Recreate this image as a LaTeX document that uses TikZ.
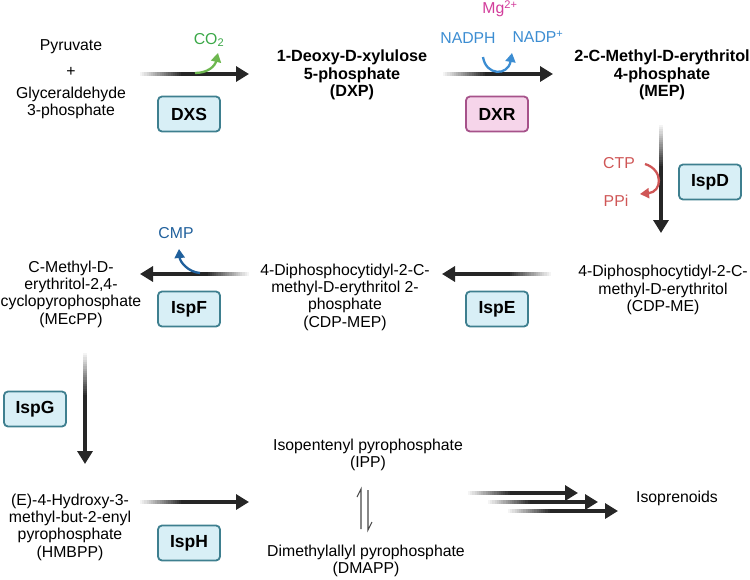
\documentclass[tikz,border=0pt]{standalone}
\usepackage{fontspec}
\setmainfont{Liberation Sans}
\usetikzlibrary{arrows.meta,calc}
\definecolor{arrowc}{HTML}{262626}
\definecolor{enzbd}{HTML}{3E7F8F}
\definecolor{enzbf}{HTML}{D8EFF6}
\definecolor{dxrbd}{HTML}{A6528A}
\definecolor{dxrbf}{HTML}{F6D5EA}
\definecolor{co2c}{HTML}{3BA848}
\definecolor{co2a}{HTML}{6DB74F}
\definecolor{nadc}{HTML}{3C8DD2}
\definecolor{mgc}{HTML}{D23D9B}
\definecolor{ctpc}{HTML}{CF5656}
\definecolor{cmpc}{HTML}{20609C}
\tikzset{
  txt/.style={font=\fontsize{15.8}{17.3}\selectfont, align=center, inner sep=0pt, text=black},
  btxt/.style={txt, font=\fontsize{16.2}{17.5}\selectfont\bfseries},
  enzb/.style={draw=enzbd, fill=enzbf, line width=1.8pt, rounded corners=4pt,
    minimum width=62pt, minimum height=35pt, inner sep=0pt,
    font=\fontsize{17.5}{20}\selectfont\bfseries},
  enzp/.style={enzb, draw=dxrbd, fill=dxrbf},
  shaft/.style={line width=3.4pt},
  tipx/.style={-{Triangle[length=13pt,width=15pt]}},
  small/.style={line width=2.3pt, -{Triangle[length=9pt,width=10pt]}},
  eq/.style={draw=arrowc!85!white, line width=1.1pt},
}
\newcommand\gradarrow[2]{%
  \foreach \i in {0,...,19}{%
    \pgfmathsetmacro\pa{\i*0.02}%
    \pgfmathsetmacro\pb{(\i+1.3)*0.02}%
    \pgfmathtruncatemacro\cc{(\i+1)*5}%
    \draw[shaft, draw=arrowc!\cc!white] ($(#1)!\pa!(#2)$) -- ($(#1)!\pb!(#2)$);
  }%
  \draw[shaft, draw=arrowc, tipx] ($(#1)!0.4!(#2)$) -- (#2);
}
\begin{document}
\begin{tikzpicture}[x=1pt, y=-1pt]
\useasboundingbox (0,0) rectangle (750,579);

% metabolites
\node[txt] (pyr) at (71,47) {Pyruvate};
\node[txt] (plus) at (71,72) {+};
\node[txt] (gap) at (71,103) {Glyceraldehyde\\3-phosphate};
\node[btxt] (dxp) at (352,75) {1-Deoxy-D-xylulose\\5-phosphate\\(DXP)};
\node[btxt] (mep) at (662,75) {2-C-Methyl-D-erythritol\\4-phosphate\\(MEP)};
\node[txt] (cdpme) at (663,290) {4-Diphosphocytidyl-2-C-\\methyl-D-erythritol\\(CDP-ME)};
\node[txt] (cdpmep) at (345,297) {4-Diphosphocytidyl-2-C-\\methyl-D-erythritol 2-\\phosphate\\(CDP-MEP)};
\node[txt] (mecpp) at (71,294) {C-Methyl-D-\\erythritol-2,4-\\cyclopyrophosphate\\(MEcPP)};
\node[txt] (hmbpp) at (70,527) {(E)-4-Hydroxy-3-\\methyl-but-2-enyl\\pyrophosphate\\(HMBPP)};
\node[txt] (ipp) at (368,455) {Isopentenyl pyrophosphate\\(IPP)};
\node[txt] (dmapp) at (366,561) {Dimethylallyl pyrophosphate\\(DMAPP)};
\node[txt] (iso) at (677,498) {Isoprenoids};

% enzymes
\node[enzb] (dxs) at (189,114) {DXS};
\node[enzp] (dxr) at (497,114) {DXR};
\node[enzb] (ispd) at (710,182) {IspD};
\node[enzb] (ispe) at (497,309) {IspE};
\node[enzb] (ispf) at (189,309) {IspF};
\node[enzb] (ispg) at (35,409) {IspG};
\node[enzb] (isph) at (189,543) {IspH};

% cofactor labels
\node[txt, text=co2c] (co2) at (209,40) {CO\textsubscript{2}};
\node[txt, text=nadc] (nadph) at (468,38) {NADPH};
\node[txt, text=nadc] (nadp) at (538,37) {NADP\textsuperscript{+}};
\node[txt, text=mgc] (mg) at (500,9) {Mg\textsuperscript{2+}};
\node[txt, text=ctpc] (ctp) at (619,163) {CTP};
\node[txt, text=ctpc] (ppi) at (616,201) {PPi};
\node[txt, text=cmpc] (cmp) at (176,233) {CMP};

% main arrows
\coordinate (a1s) at (140,74);  \coordinate (a1e) at (249,74);
\coordinate (a2s) at (443,74);  \coordinate (a2e) at (553,74);
\coordinate (a3s) at (661,125); \coordinate (a3e) at (661,233);
\coordinate (a4s) at (551,274); \coordinate (a4e) at (442,274);
\coordinate (a5s) at (249,274); \coordinate (a5e) at (140,274);
\coordinate (a6s) at (85,353);  \coordinate (a6e) at (85,464);
\coordinate (a7s) at (140,502); \coordinate (a7e) at (249,502);
\coordinate (b1s) at (468,493); \coordinate (b1e) at (578,493);
\coordinate (b2s) at (488,502); \coordinate (b2e) at (598,502);
\coordinate (b3s) at (508,511); \coordinate (b3e) at (618,511);
\gradarrow{a1s}{a1e}
\gradarrow{a2s}{a2e}
\gradarrow{a3s}{a3e}
\gradarrow{a4s}{a4e}
\gradarrow{a5s}{a5e}
\gradarrow{a6s}{a6e}
\gradarrow{a7s}{a7e}
\gradarrow{b1s}{b1e}
\gradarrow{b2s}{b2e}
\gradarrow{b3s}{b3e}

% side arrows
\draw[small, draw=co2a] (195,73) .. controls (208,73) and (215,66) .. (218,53);
\draw[small, draw=nadc] (483,57) .. controls (486,76) and (508,76) .. (512,53);
\draw[small, draw=ctpc] (645,164) .. controls (664,170) and (662,192) .. (640,194);
\draw[small, draw=cmpc] (200,273) .. controls (188,272) and (180,262) .. (179,249);

% equilibrium
\coordinate (e1b) at (361,529); \coordinate (e1t) at (361,489); \coordinate (e1h) at (357,497);
\coordinate (e2t) at (368,490); \coordinate (e2b) at (368,530); \coordinate (e2h) at (372,522);
\draw[eq] (e1b) -- (e1t) -- (e1h);
\draw[eq] (e2t) -- (e2b) -- (e2h);
\end{tikzpicture}
\end{document}
